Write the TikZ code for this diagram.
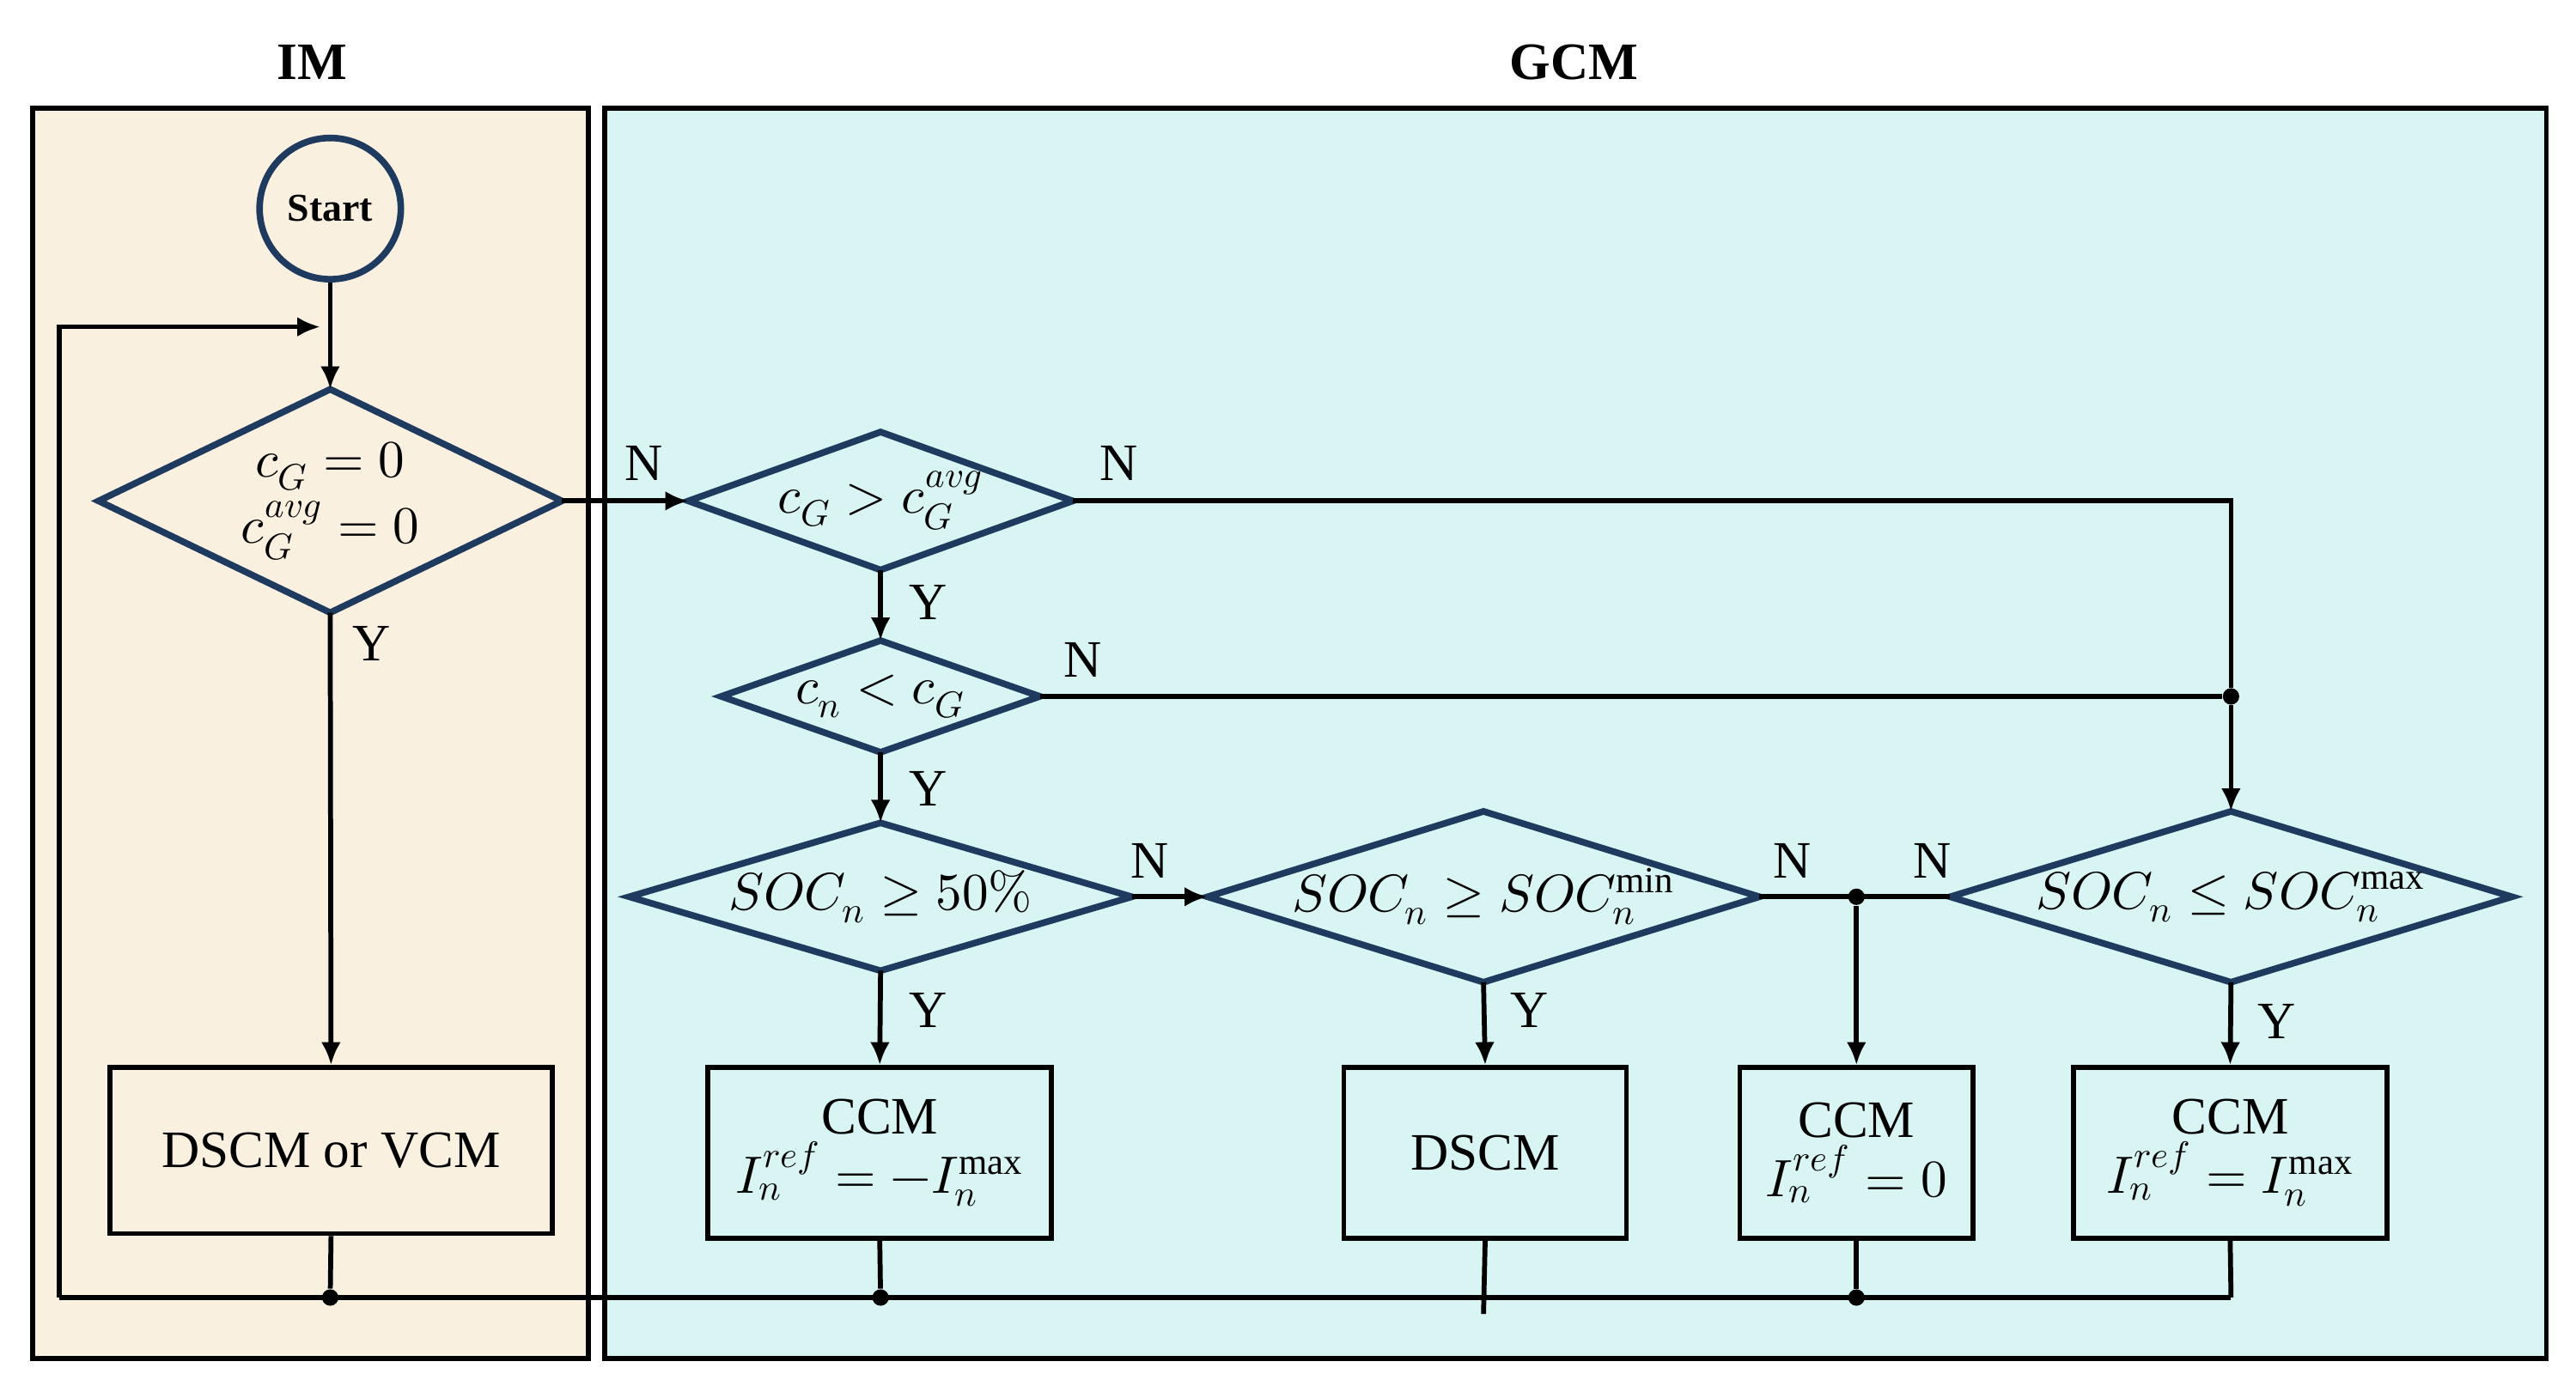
\documentclass[tikz,border=0pt]{standalone}
\usepackage{fontspec}
\setmainfont{Liberation Serif}
\usepackage{unicode-math}
\setmathfont{Latin Modern Math}
\usetikzlibrary{shapes.geometric,arrows.meta}
\definecolor{navy}{HTML}{1F3A5F}
\definecolor{beige}{HTML}{FAF0E0}
\definecolor{cyanbg}{HTML}{D8F5F3}
\newcommand\mydia[6]{%
 \coordinate (#1-n) at (#2,#3-#5);
 \coordinate (#1-s) at (#2,#3+#5);
 \coordinate (#1-w) at (#2-#4,#3);
 \coordinate (#1-e) at (#2+#4,#3);
 \draw[diab] (#1-n) -- (#1-e) -- (#1-s) -- (#1-w) -- cycle;
 \node[align=center,inner sep=0pt] (#1) at (#2,#3) {#6};}
\begin{document}
\begin{tikzpicture}[x=0.5pt,y=-0.5pt,font=\fontsize{16}{18}\selectfont,
 diab/.style={draw=navy,line width=2pt,line join=miter},
 box/.style={draw=black,line width=1.5pt,align=center,inner sep=0pt},
 ln/.style={line width=1.5pt},
 ar/.style={ln,-{Latex[length=7pt,width=6pt]}},
 dot/.style={circle,fill,inner sep=0pt,minimum size=5pt},
 lab/.style={font=\fontsize{16}{18}\selectfont}]
\useasboundingbox (0,0) rectangle (1568,847);
\draw[ln,fill=beige] (20,66) rectangle (358,827);
\draw[ln,fill=cyanbg] (368,66) rectangle (1550,827);
\node[font=\bfseries\fontsize{16}{18}\selectfont] (tim) at (190,38) {IM};
\node[font=\bfseries\fontsize{16}{18}\selectfont] (tgcm) at (958,38) {GCM};
\node[circle,draw=navy,line width=2pt,minimum size=43pt,font=\bfseries\fontsize{12}{14}\selectfont] (start) at (201,127) {Start};
\mydia{d1}{201}{305}{141}{68}{$c_G=0$\\[2pt]$c_G^{avg}=0$}
\mydia{d2}{536}{305}{117}{42}{$c_G>c_G^{avg}$}
\mydia{d3}{536}{424}{97}{34}{$c_n<c_G$}
\mydia{d4}{536}{546}{153}{45}{$SOC_n\geq 50\%$}
\mydia{d5}{903}{546}{168}{52}{$SOC_n\geq SOC_n^{\min}$}
\mydia{d6}{1358}{546}{171}{52}{$SOC_n\leq SOC_n^{\max}$}
\node[box,minimum width=134.5pt,minimum height=50.5pt] (b1) at (201.5,700.5) {DSCM or VCM};
\node[box,minimum width=104.5pt,minimum height=52pt] (b2) at (535.5,702) {CCM\\$I_n^{ref}=-I_n^{\max}$};
\node[box,minimum width=86pt,minimum height=52pt] (b3) at (904,702) {DSCM};
\node[box,minimum width=71pt,minimum height=52pt] (b4) at (1130,702) {CCM\\$I_n^{ref}=0$};
\node[box,minimum width=95.5pt,minimum height=52pt] (b5) at (1357.5,702) {CCM\\$I_n^{ref}=I_n^{\max}$};
\coordinate (j0) at (201,199);
\coordinate (lt) at (36,199);
\coordinate (lb) at (36,790);
\coordinate (r2) at (1358,305);
\node[dot] (p1) at (1358,424) {};
\node[dot] (p2) at (1130,546) {};
\node[dot] (q1) at (201,790) {};
\node[dot] (q2) at (536,790) {};
\node[dot] (q3) at (1130,790) {};
\coordinate (q5) at (1358,790);
\coordinate (q4b) at (903,800);
\draw[ln] (start) -- (j0);
\draw[ar] (j0) -- (d1-n);
\draw[ar] (lb) -- (lt) -- ([xshift=-3]j0);
\draw[ar] (d1-e) -- (d2-w);
\draw[ln] (d2-e) -- (r2) -- (p1);
\draw[ar] (p1) -- (d6-n);
\draw[ar] (d2-s) -- (d3-n);
\draw[ln] (d3-e) -- (p1);
\draw[ar] (d3-s) -- (d4-n);
\draw[ar] (d4-e) -- (d5-w);
\draw[ln] (d5-e) -- (d6-w);
\draw[ar] (p2) -- (b4.north);
\draw[ar] (d1-s) -- (b1.north);
\draw[ar] (d4-s) -- (b2.north);
\draw[ar] (d5-s) -- (b3.north);
\draw[ar] (d6-s) -- (b5.north);
\draw[ln] (b1.south) -- (q1);
\draw[ln] (b2.south) -- (q2);
\draw[ln] (b3.south) -- (q4b);
\draw[ln] (b4.south) -- (q3);
\draw[ln] (b5.south) -- (q5);
\draw[ln] (lb) -- (q5);
\node[lab] (n1) at (392,282) {N};
\node[lab] (n2) at (681,282) {N};
\node[lab] (n3) at (659,402) {N};
\node[lab] (n4) at (700,524) {N};
\node[lab] (n5) at (1091,524) {N};
\node[lab] (n6) at (1176,524) {N};
\node[lab] (y1) at (226,392) {Y};
\node[lab] (y2) at (565,367) {Y};
\node[lab] (y3) at (565,480) {Y};
\node[lab] (y4) at (565,615) {Y};
\node[lab] (y5) at (931,615) {Y};
\node[lab] (y6) at (1386,622) {Y};
\end{tikzpicture}
\end{document}
